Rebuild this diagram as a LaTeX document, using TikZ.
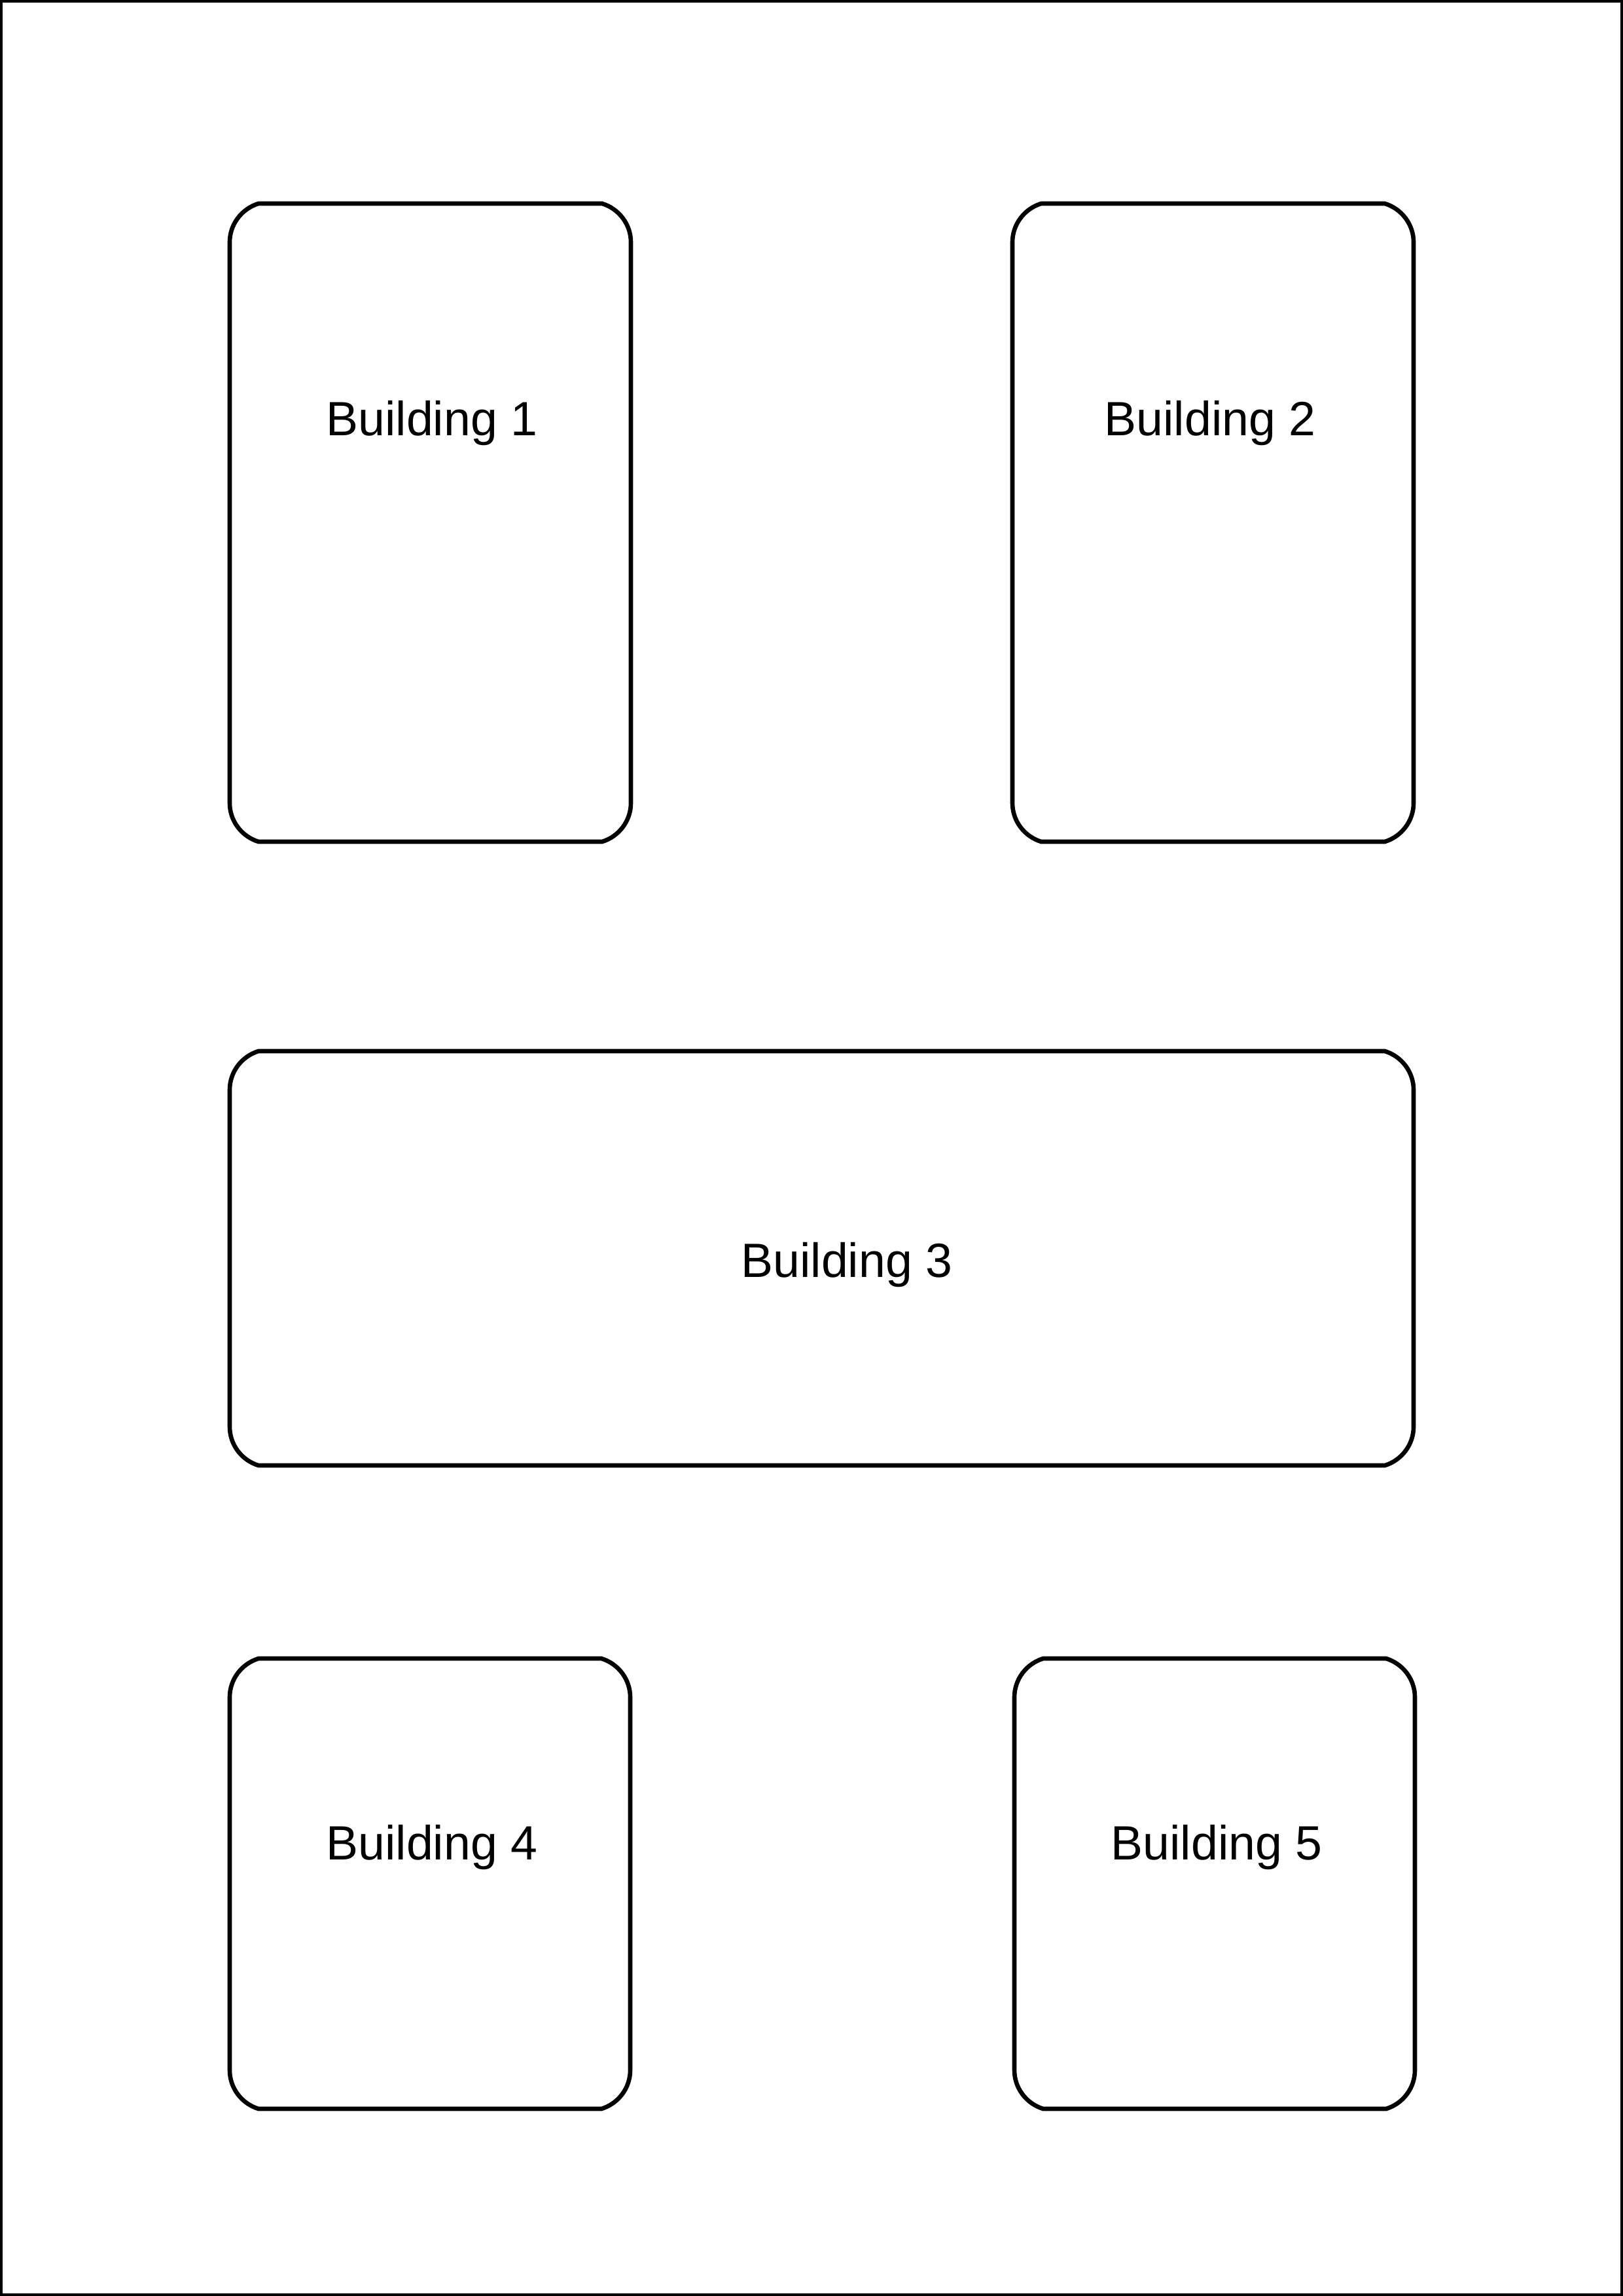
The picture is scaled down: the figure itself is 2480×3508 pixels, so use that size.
\documentclass[tikz,border=0pt]{standalone}
\usepackage{fontspec}
\setmainfont{Liberation Sans}
\usepackage{tikz}
\usetikzlibrary{positioning}

% outline of one building, corners cut by a curve
\newcommand{\bldg}[4]{%
  \draw[wall] (#1,#2+59) .. controls (#1,#2+32) and (#1+18,#2+8) .. (#1+44,#2)
    -- (#3-44,#2) .. controls (#3-18,#2+8) and (#3,#2+32) .. (#3,#2+59)
    -- (#3,#4-59) .. controls (#3,#4-32) and (#3-18,#4-8) .. (#3-44,#4)
    -- (#1+44,#4) .. controls (#1+18,#4-8) and (#1,#4-32) .. (#1,#4-59) -- cycle;}

\begin{document}
\begin{tikzpicture}[x=0.08467mm, y=-0.08467mm,
    wall/.style={draw, line width=1.6pt},
    label/.style={font=\fontsize{17.7}{21}\selectfont}]
  \useasboundingbox (0,0) rectangle (2480,3508);
  \draw[line width=1pt] (2,2) rectangle (2478,3506);

  \bldg{351}{311}{964}{1286}
  \bldg{1547}{311}{2160}{1286}
  \bldg{351}{1606}{2160}{2239}
  \bldg{351}{2534}{963}{3222}
  \bldg{1550}{2534}{2162}{3222}

  \node[label] (b1) at (660,646) {Building 1};
  \node[label] (b2) at (1849,646) {Building 2};
  \node[label] (b3) at (1294,1932) {Building 3};
  \node[label] (b4) at (660,2822) {Building 4};
  \node[label] (b5) at (1859,2822) {Building 5};
\end{tikzpicture}
\end{document}
